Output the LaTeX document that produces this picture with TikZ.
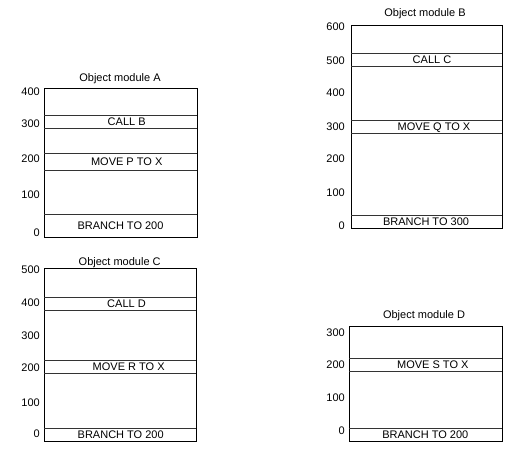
\documentclass[tikz,border=0pt]{standalone}
\usepackage{fontspec}
\setmainfont{Liberation Sans}
\usetikzlibrary{positioning}

\tikzset{
    modbox/.style={draw=black, line width=0.6pt},
    band/.style={draw=black!80, line width=0.6pt},
    lbl/.style={font=\fontsize{11}{13}\selectfont, inner sep=0pt, text height=7.8pt, text depth=0pt},
    tick/.style={lbl, anchor=east},
}

\begin{document}
\begin{tikzpicture}[x=1pt, y=-1pt]
    \useasboundingbox (0,0) rectangle (522,452);

    % Object module A
    \node[lbl] (titleA) at (120,78) {Object module A};
    \draw[modbox] (44,88) rectangle (197,237);
    \draw[band] (44,115.7) -- (197,115.7);
    \draw[band] (44,128.3) -- (197,128.3);
    \draw[band] (44,153.3) -- (197,153.3);
    \draw[band] (44,170) -- (197,170);
    \draw[band] (44,214.3) -- (197,214.3);
    \node[lbl] (callB) at (126.7,122) {CALL B};
    \node[lbl] (moveP) at (126.7,161.7) {MOVE P TO X};
    \node[lbl] (branchA) at (120.5,225.7) {BRANCH TO 200};
    \foreach \val/\yy in {400/92, 300/123.3, 200/159, 100/195, 0/233}
        \node[tick] (a\val) at (40,\yy) {\val};

    % Object module B
    \node[lbl] (titleB) at (425,13) {Object module B};
    \draw[modbox] (351,25) rectangle (502,228);
    \draw[band] (351,53.3) -- (502,53.3);
    \draw[band] (351,66.7) -- (502,66.7);
    \draw[band] (351,120.3) -- (502,120.3);
    \draw[band] (351,133.3) -- (502,133.3);
    \draw[band] (351,215) -- (502,215);
    \node[lbl] (callC) at (432,60) {CALL C};
    \node[lbl] (moveQ) at (434,126.8) {MOVE Q TO X};
    \node[lbl] (branchB) at (426,221.5) {BRANCH TO 300};
    \foreach \val/\yy in {600/27, 500/61, 400/93, 300/127, 200/159, 100/193, 0/226}
        \node[tick] (b\val) at (345,\yy) {\val};

    % Object module C
    \node[lbl] (titleC) at (119.7,262) {Object module C};
    \draw[modbox] (44,268.3) rectangle (196,441);
    \draw[band] (44,297.7) -- (196,297.7);
    \draw[band] (44,310) -- (196,310);
    \draw[band] (44,360) -- (196,360);
    \draw[band] (44,373.3) -- (196,373.3);
    \draw[band] (44,428.3) -- (196,428.3);
    \node[lbl] (callD) at (126.5,304) {CALL D};
    \node[lbl] (moveR) at (128.7,366.7) {MOVE R TO X};
    \node[lbl] (branchC) at (120.7,434.7) {BRANCH TO 200};
    \foreach \val/\yy in {500/270, 400/303, 300/336, 200/368, 100/403, 0/434}
        \node[tick] (c\val) at (40,\yy) {\val};

    % Object module D
    \node[lbl] (titleD) at (424,315) {Object module D};
    \draw[modbox] (349,326) rectangle (502,441.7);
    \draw[band] (349,358.3) -- (502,358.3);
    \draw[band] (349,371.7) -- (502,371.7);
    \draw[band] (349,428.3) -- (502,428.3);
    \node[lbl] (moveS) at (432.8,365) {MOVE S TO X};
    \node[lbl] (branchD) at (425.3,435) {BRANCH TO 200};
    \foreach \val/\yy in {300/332.7, 200/365, 100/398, 0/430.7}
        \node[tick] (d\val) at (345,\yy) {\val};
\end{tikzpicture}
\end{document}
